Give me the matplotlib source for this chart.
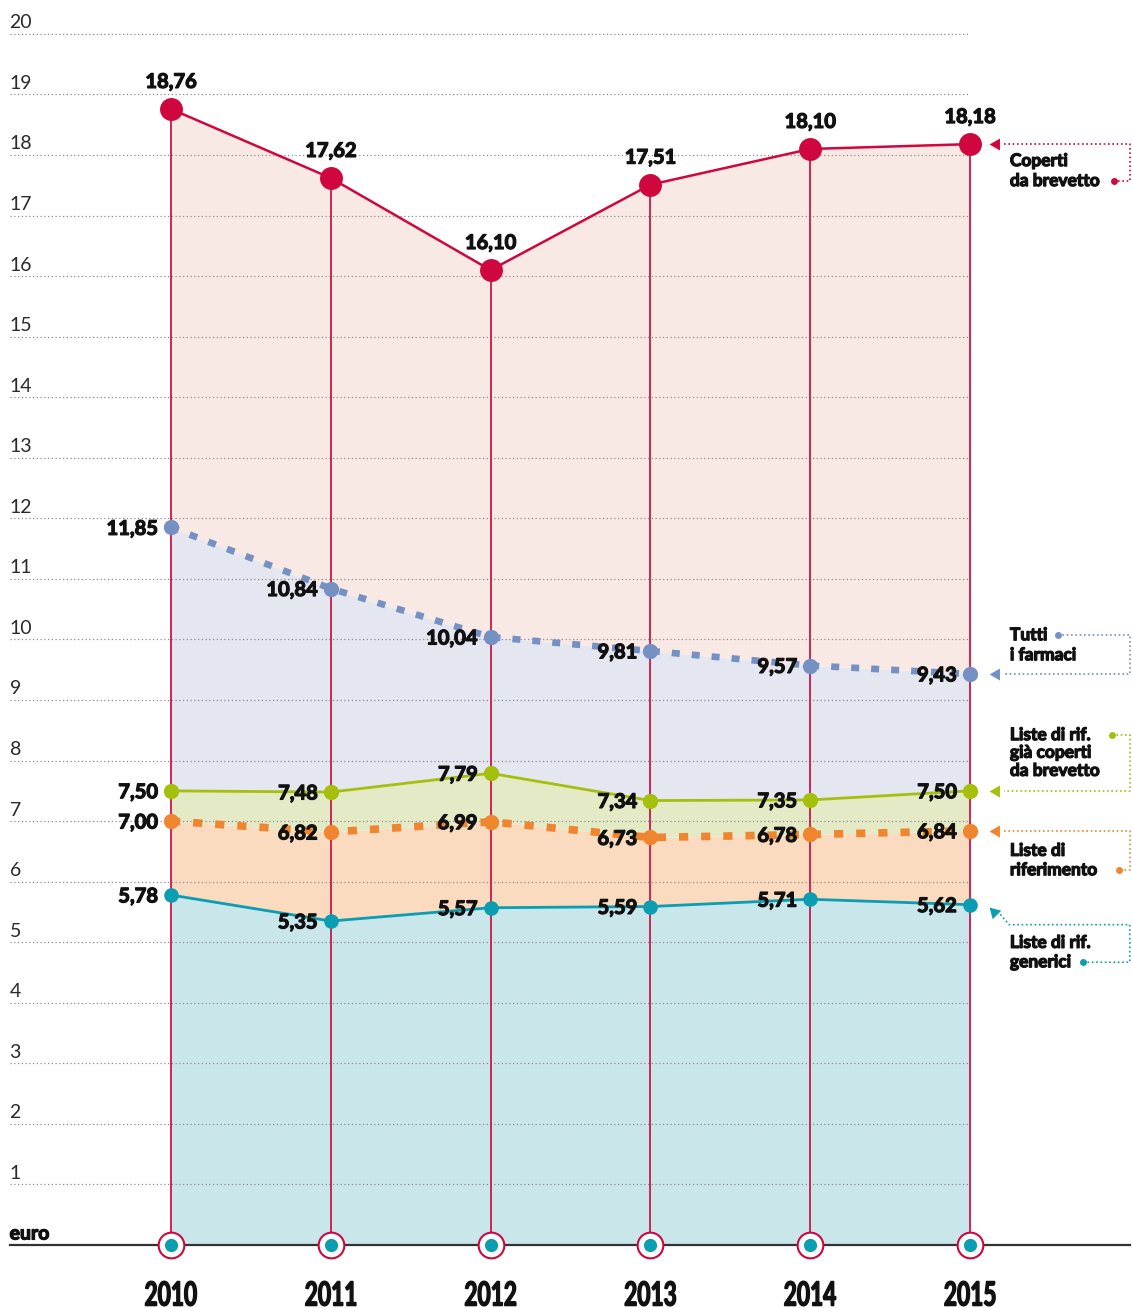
import matplotlib
matplotlib.use('Agg')
import matplotlib.pyplot as plt
import matplotlib.transforms as mtransforms
import matplotlib.patheffects as pe
from matplotlib.textpath import TextPath
from matplotlib.patches import PathPatch
from matplotlib.font_manager import FontProperties

# prezzo medio per confezione (euro)
years = [2010, 2011, 2012, 2013, 2014, 2015]
brevetto = [18.76, 17.62, 16.10, 17.51, 18.10, 18.18]
tutti = [11.85, 10.84, 10.04, 9.81, 9.57, 9.43]
rif_coperti = [7.50, 7.48, 7.79, 7.34, 7.35, 7.50]
riferimento = [7.00, 6.82, 6.99, 6.73, 6.78, 6.84]
generici = [5.78, 5.35, 5.57, 5.59, 5.71, 5.62]
y_ticks = list(range(1, 21))

RED, RED_F = '#d0063e', '#f9e9e5'
BLUE, BLUE_F = '#7590c2', '#e4e6f0'
GREEN, GREEN_F = '#a4c00c', '#e5eac6'
ORANGE, ORANGE_F = '#f08530', '#fadbbf'
TEAL, TEAL_F = '#0b9db2', '#c9e6eb'
VLINE = '#c9174b'
INK = '#111111'

# grassetto "pieno": Lato Bold ispessito con un contorno
HEAVY = [pe.withStroke(linewidth=0.9, foreground=INK)]
BOLD = dict(family=['Lato', 'DejaVu Sans'], weight='bold', path_effects=HEAVY)


def fmt(v):
    return f'{v:.2f}'.replace('.', ',')


fig = plt.figure(figsize=(11.32, 13.08), dpi=100)
ax = fig.add_axes([0, 0, 1, 1])
ax.set_xlim(2008.93, 2016.014)
ax.set_ylim(-1.04, 20.56)
ax.axis('off')

# aree impilate
ax.fill_between(years, 0, generici, color=TEAL_F, lw=0, zorder=1)
ax.fill_between(years, generici, riferimento, color=ORANGE_F, lw=0, zorder=1)
ax.fill_between(years, riferimento, rif_coperti, color=GREEN_F, lw=0, zorder=1)
ax.fill_between(years, rif_coperti, tutti, color=BLUE_F, lw=0, zorder=1)
ax.fill_between(years, tutti, brevetto, color=RED_F, lw=0, zorder=1)

# griglia e valori asse y
x_left = 2008.99
for t in y_ticks:
    ax.plot([x_left, years[-1]], [t, t], color='#8c8c8c', lw=0.9,
            ls=(0, (1, 2)), zorder=2)
    ax.annotate(str(t), (x_left, t), xytext=(0, 4), textcoords='offset points',
                ha='left', va='baseline', fontsize=14, color='#2a2a2a',
                family=['Lato', 'DejaVu Sans'], weight='normal')

ax.plot([x_left, 2016.0], [0, 0], color='#333333', lw=1.6, zorder=3)
ax.annotate('euro', (x_left, 0), xytext=(0, 4), textcoords='offset points',
            ha='left', va='baseline', fontsize=14, color=INK, **BOLD)

ax.vlines(years, 0, brevetto, color=VLINE, lw=1.3, zorder=3)

# serie
ax.plot(years, generici, color=TEAL, lw=2.0, zorder=4)
ax.plot(years, riferimento, color=ORANGE, lw=5.5, ls=(0, (1.2, 1.7)),
        dash_capstyle='butt', zorder=4)
ax.plot(years, rif_coperti, color=GREEN, lw=2.0, zorder=4)
ax.plot(years, tutti, color=BLUE, lw=4.8, ls=(0, (1.2, 1.8)),
        dash_capstyle='butt', zorder=4)
ax.plot(years, brevetto, color=RED, lw=1.8, zorder=4)

for vals, c, ms in [(generici, TEAL, 10.5), (riferimento, ORANGE, 11),
                    (rif_coperti, GREEN, 11), (tutti, BLUE, 11),
                    (brevetto, RED, 16.5)]:
    ax.plot(years, vals, 'o', ms=ms, color=c, mec='none', zorder=6)

# etichette valori
for x, v in zip(years, brevetto):
    ax.annotate(fmt(v), (x, v), xytext=(0, 19.5), textcoords='offset points',
                ha='center', va='center', fontsize=14.5, color=INK, **BOLD)
for vals in [tutti, rif_coperti, riferimento, generici]:
    for x, v in zip(years, vals):
        ax.annotate(fmt(v), (x, v), xytext=(-9.5, -1), textcoords='offset points',
                    ha='right', va='center', fontsize=14.5, color=INK,
                    zorder=7, **BOLD)

# cerchi sull'asse
ax.plot(years, [0] * len(years), 'o', ms=18.5, mfc='white', mec=RED, mew=1.5,
        zorder=7, clip_on=False)
ax.plot(years, [0] * len(years), 'o', ms=9.5, color=TEAL, mec='none', zorder=8)

# anni in carattere condensato
year_prop = FontProperties(family=['Lato', 'DejaVu Sans'], weight='bold')
for x in years:
    tp = TextPath((0, 0), str(x), size=24, prop=year_prop)
    ext = tp.get_extents()
    tr = (mtransforms.Affine2D().translate(-(ext.x0 + ext.x1) / 2, 0)
          .scale(0.68 / 72, 1 / 72)
          + fig.dpi_scale_trans
          + mtransforms.ScaledTranslation(x, -1.0, ax.transData))
    ax.add_patch(PathPatch(tp, transform=tr, color=INK, lw=1.0, clip_on=False))

# didascalie a destra
X_ARROW, X_TEXT, X_EDGE = 2015.16, 2015.25, 2016.0
DOT = dict(lw=1.2, ls=(0, (1, 1.6)), zorder=5, clip_on=False)
LABEL = dict(ha='left', va='center', fontsize=12.5, color=INK,
             linespacing=1.0, **BOLD)


def connector(c, pts, dot, arrow, angle=90):
    xs, ys = zip(*pts)
    ax.plot(xs, ys, color=c, **DOT)
    ax.plot(*dot, 'o', ms=5, color=c, mec='none', zorder=6, clip_on=False)
    ax.plot(*arrow, marker=(3, 0, angle), ms=10, color=c, mec='none',
            zorder=6, clip_on=False)


# Coperti da brevetto
yv = brevetto[-1]
ax.text(X_TEXT, 17.90, 'Coperti', **LABEL)
ax.text(X_TEXT, 17.57, 'da brevetto', **LABEL)
connector(RED, [(X_ARROW + 0.05, yv), (X_EDGE, yv), (X_EDGE, 17.57), (2015.90, 17.57)],
          (2015.90, 17.57), (X_ARROW, yv))

# Tutti i farmaci
yv = tutti[-1]
ax.text(X_TEXT, 10.07, 'Tutti', **LABEL)
ax.text(X_TEXT, 9.74, 'i farmaci', **LABEL)
connector(BLUE, [(2015.55, 10.07), (X_EDGE, 10.07), (X_EDGE, yv), (X_ARROW + 0.05, yv)],
          (2015.55, 10.07), (X_ARROW, yv))

# Liste di rif. già coperti da brevetto
yv = rif_coperti[-1]
ax.text(X_TEXT, 8.42, 'Liste di rif.', **LABEL)
ax.text(X_TEXT, 8.13, 'già coperti', **LABEL)
ax.text(X_TEXT, 7.83, 'da brevetto', **LABEL)
connector(GREEN, [(2015.89, 8.42), (X_EDGE, 8.42), (X_EDGE, yv), (X_ARROW + 0.05, yv)],
          (2015.89, 8.42), (X_ARROW, yv))

# Liste di riferimento
yv = riferimento[-1]
ax.text(X_TEXT, 6.51, 'Liste di', **LABEL)
ax.text(X_TEXT, 6.19, 'riferimento', **LABEL)
connector(ORANGE, [(X_ARROW + 0.05, yv), (X_EDGE, yv), (X_EDGE, 6.19), (2015.93, 6.19)],
          (2015.93, 6.19), (X_ARROW, yv))

# Liste di rif. generici
yv = generici[-1]
ax.text(X_TEXT, 4.99, 'Liste di rif.', **LABEL)
ax.text(X_TEXT, 4.67, 'generici', **LABEL)
connector(TEAL, [(X_ARROW + 0.03, yv - 0.16), (2015.245, 5.29), (X_EDGE, 5.29),
                 (X_EDGE, 4.67), (2015.71, 4.67)],
          (2015.71, 4.67), (X_ARROW - 0.01, yv - 0.12), angle=45)

fig.savefig('out.png', dpi=100)
